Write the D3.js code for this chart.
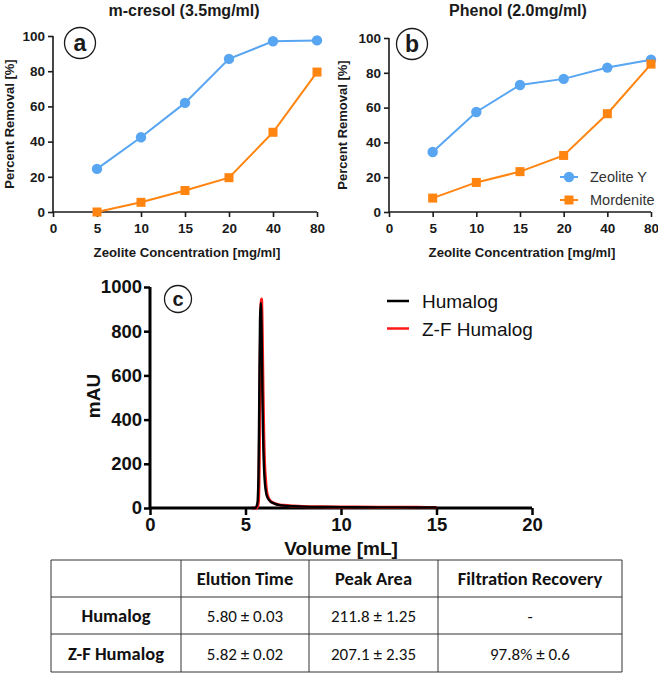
<!DOCTYPE html>
<html><head><meta charset="utf-8">
<script src="https://cdn.jsdelivr.net/npm/d3@7"></script>
<style>
body{margin:0;background:#fff;}
svg{display:block;}
</style></head>
<body>
<svg id="chart" width="658" height="674"></svg>
<script>
// ---- data ----
const concTicks = ["0","5","10","15","20","40","80"];
const concCats = ["5","10","15","20","40","80"];
const yTicksPct = [0,20,40,60,80,100];
const cresolZeoliteY = [24.5, 42.5, 62, 87, 97, 97.5];
const cresolMordenite = [0, 5.5, 12.2, 19.5, 45.3, 79.5];
const phenolZeoliteY = [34.5, 57.5, 73, 76.5, 83, 87.5];
const phenolMordenite = [8, 17, 23.2, 32.5, 56.5, 85];
const seriesNames = ["Zeolite Y","Mordenite"];

const volTicks = [0,5,10,15,20];
const mauTicks = [0,200,400,600,800,1000];
const humalogVol = [5.3,5.5,5.62,5.68,5.72,5.76,5.8,5.84,5.88,5.92,5.96,6.0,6.05,6.1,6.2,6.3,6.45,6.6,6.8,7.0,7.5,8,9,10,12,14,15];
const humalogMAU = [0,0,20,150,500,850,928,820,560,330,200,130,85,60,40,30,22,17,13,11,8,6,5,4,3,2.5,2];
const zfVol = [5.4,5.6,5.68,5.72,5.76,5.8,5.84,5.88,5.92,5.96,6.0,6.05,6.1,6.2,6.3,6.45,6.6,6.8,7.0,7.5,8,9,10,12,14,15];
const zfMAU = [0,0,30,200,560,880,946,780,520,320,200,130,80,45,32,24,18,14,12,9,7,5.5,4.5,3.5,3,2.5];
const legendC = ["Humalog","Z-F Humalog"];

const tableHeader = ["","Elution Time","Peak Area","Filtration Recovery"];
const tableRows = [
  ["Humalog","5.80 ± 0.03","211.8 ± 1.25","-"],
  ["Z-F Humalog","5.82 ± 0.02","207.1 ± 2.35","97.8% ± 0.6"]
];

// ---- drawing ----
const svg = d3.select("#chart");
const BLUE = "#58a5f2", ORANGE = "#ff8410", AX = "#1a1a1a";
const FONT = "'Liberation Sans', Arial, Helvetica, sans-serif";

function panel(opts){
  const g = svg.append("g");
  const x = d3.scalePoint().domain(concTicks).range([opts.x0, opts.x1]);
  const y = d3.scaleLinear().domain([0,100]).range([opts.y0, opts.y1]);
  const xa = g.append("g").attr("transform",`translate(0,${opts.y0})`)
    .call(d3.axisBottom(x).tickSize(5).tickPadding(6));
  const ya = g.append("g").attr("transform",`translate(${opts.x0},0)`)
    .call(d3.axisLeft(y).tickValues(yTicksPct).tickSize(5).tickPadding(3));
  [xa,ya].forEach(a=>{
    a.selectAll("path").attr("stroke",AX).attr("stroke-width",1.6);
    a.selectAll("line").attr("stroke",AX).attr("stroke-width",1.6);
    a.selectAll("text").attr("fill",AX).style("font-family",FONT).style("font-weight","bold").style("font-size","13.5px");
  });
  xa.select(".domain").attr("d",`M${opts.x0},0H${opts.x1}`);
  ya.select(".domain").attr("d",`M0,${opts.y0}V${opts.y1}`);
  const line = d3.line().x((d,i)=>x(concCats[i])).y(d=>y(d));
  g.append("path").datum(opts.blue).attr("d",line).attr("fill","none").attr("stroke",BLUE).attr("stroke-width",2);
  g.append("path").datum(opts.orange).attr("d",line).attr("fill","none").attr("stroke",ORANGE).attr("stroke-width",2);
  g.selectAll(".bc").data(opts.blue).enter().append("circle")
    .attr("cx",(d,i)=>x(concCats[i])).attr("cy",d=>y(d)).attr("r",5.2).attr("fill",BLUE);
  g.selectAll(".os").data(opts.orange).enter().append("rect")
    .attr("x",(d,i)=>x(concCats[i])-4.5).attr("y",d=>y(d)-4.5).attr("width",9).attr("height",9).attr("fill",ORANGE);
  g.append("text").attr("x",opts.titleX).attr("y",16).attr("text-anchor","middle")
    .style("font-family",FONT).style("font-weight","bold").style("font-size","16px").attr("fill",AX).text(opts.title);
  g.append("text").attr("x",(opts.x0+opts.x1)/2+2).attr("y",opts.y0+45).attr("text-anchor","middle")
    .style("font-family",FONT).style("font-weight","bold").style("font-size","13.2px").attr("fill",AX).text("Zeolite Concentration [mg/ml]");
  g.append("text").attr("transform",`translate(${opts.ylabX},${(opts.y0+opts.y1)/2}) rotate(-90)`).attr("text-anchor","middle")
    .style("font-family",FONT).style("font-weight","bold").style("font-size","13px").attr("fill",AX).text("Percent Removal [%]");
  g.append("circle").attr("cx",opts.cx).attr("cy",opts.cy).attr("r",15.5).attr("fill","#fff").attr("stroke",AX).attr("stroke-width",1.3);
  g.append("text").attr("x",opts.cx).attr("y",opts.cy+8).attr("text-anchor","middle")
    .style("font-family",FONT).style("font-weight","bold").style("font-size","23px").attr("fill",AX).text(opts.letter);
  return {g,x,y};
}

panel({x0:53,x1:317,y0:212,y1:36,blue:cresolZeoliteY,orange:cresolMordenite,title:"m-cresol (3.5mg/ml)",titleX:184,ylabX:14,cx:80,cy:43,letter:"a"});
panel({x0:389,x1:651,y0:212,y1:38,blue:phenolZeoliteY,orange:phenolMordenite,title:"Phenol (2.0mg/ml)",titleX:518,ylabX:347,cx:412,cy:44,letter:"b"});

// legend b
const lg = svg.append("g");
[0,1].forEach(i=>{
  const yy = 177 + i*23;
  lg.append("line").attr("x1",560).attr("x2",578).attr("y1",yy).attr("y2",yy).attr("stroke",i?ORANGE:BLUE).attr("stroke-width",2);
  if(i===0) lg.append("circle").attr("cx",569).attr("cy",yy).attr("r",5.2).attr("fill",BLUE);
  else lg.append("rect").attr("x",564.5).attr("y",yy-4.5).attr("width",9).attr("height",9).attr("fill",ORANGE);
  lg.append("text").attr("x",590).attr("y",yy+5).style("font-family",FONT).style("font-size","14.5px").attr("fill","#333").text(seriesNames[i]);
});

// ---- panel c ----
const gc = svg.append("g");
const xc = d3.scaleLinear().domain([0,20]).range([150,532]);
const yc = d3.scaleLinear().domain([0,1000]).range([508,287]);
const xca = gc.append("g").attr("transform","translate(0,508)").call(d3.axisBottom(xc).tickValues(volTicks).tickSize(7).tickPadding(3).tickFormat(d3.format("d")));
const yca = gc.append("g").attr("transform","translate(150,0)").call(d3.axisLeft(yc).tickValues(mauTicks).tickSize(6).tickPadding(2).tickFormat(d3.format("d")));
[xca,yca].forEach(a=>{
  a.selectAll("path").attr("stroke","#000").attr("stroke-width",3);
  a.selectAll("line").attr("stroke","#000").attr("stroke-width",2.5);
  a.selectAll("text").attr("fill","#111").style("font-family",FONT).style("font-weight","bold").style("font-size","18.5px");
});
xca.select(".domain").attr("d","M150,0H532");
yca.select(".domain").attr("d","M0,508V287");
const lineC = d3.line().x(d=>xc(d[0])).y(d=>yc(d[1])).curve(d3.curveMonotoneX);
gc.append("path").datum(zfVol.map((v,i)=>[v,zfMAU[i]])).attr("d",lineC).attr("fill","none").attr("stroke","#ff1a1a").attr("stroke-width",3);
gc.append("path").datum(humalogVol.map((v,i)=>[v,humalogMAU[i]])).attr("d",lineC).attr("fill","none").attr("stroke","#000").attr("stroke-width",2.4);
gc.append("text").attr("x",341).attr("y",555).attr("text-anchor","middle")
  .style("font-family",FONT).style("font-weight","bold").style("font-size","19px").attr("fill","#111").text("Volume [mL]");
gc.append("text").attr("transform","translate(100,396) rotate(-90)").attr("text-anchor","middle")
  .style("font-family",FONT).style("font-weight","bold").style("font-size","19px").attr("fill","#111").text("mAU");
gc.append("circle").attr("cx",178).attr("cy",299).attr("r",13.5).attr("fill","#fff").attr("stroke",AX).attr("stroke-width",1.3);
gc.append("text").attr("x",178).attr("y",306).attr("text-anchor","middle")
  .style("font-family",FONT).style("font-weight","bold").style("font-size","20px").attr("fill",AX).text("c");
legendC.forEach((n,i)=>{
  const yy = 301 + i*27.5;
  gc.append("line").attr("x1",387).attr("x2",409).attr("y1",yy).attr("y2",yy).attr("stroke",i?"#ff1a1a":"#000").attr("stroke-width",2.5);
  gc.append("text").attr("x",422).attr("y",yy+7).style("font-family",FONT).style("font-size","19px").attr("fill","#111").text(n);
});

// ---- table ----
const colX = [51,181,309,438,622];
const rowY = [560,597,634,672];
const tg = svg.append("g");
const TF = "Carlito, Calibri, Lato, 'Open Sans', sans-serif";
colX.forEach(cx=>tg.append("line").attr("x1",cx).attr("x2",cx).attr("y1",rowY[0]).attr("y2",rowY[3]).attr("stroke","#333").attr("stroke-width",1));
rowY.forEach(ry=>tg.append("line").attr("x1",colX[0]).attr("x2",colX[4]).attr("y1",ry).attr("y2",ry).attr("stroke","#333").attr("stroke-width",1));
const allRows = [tableHeader, ...tableRows];
allRows.forEach((row,r)=>{
  row.forEach((cell,c)=>{
    const bold = (r===0||c===0);
    tg.append("text").attr("x",(colX[c]+colX[c+1])/2).attr("y",(rowY[r]+rowY[r+1])/2+6.5).attr("text-anchor","middle")
      .style("font-family",TF).style("font-size",bold?"18.5px":"17px").style("font-weight",bold?"bold":"normal").attr("fill","#111").text(cell);
  });
});
</script>
</body></html>
